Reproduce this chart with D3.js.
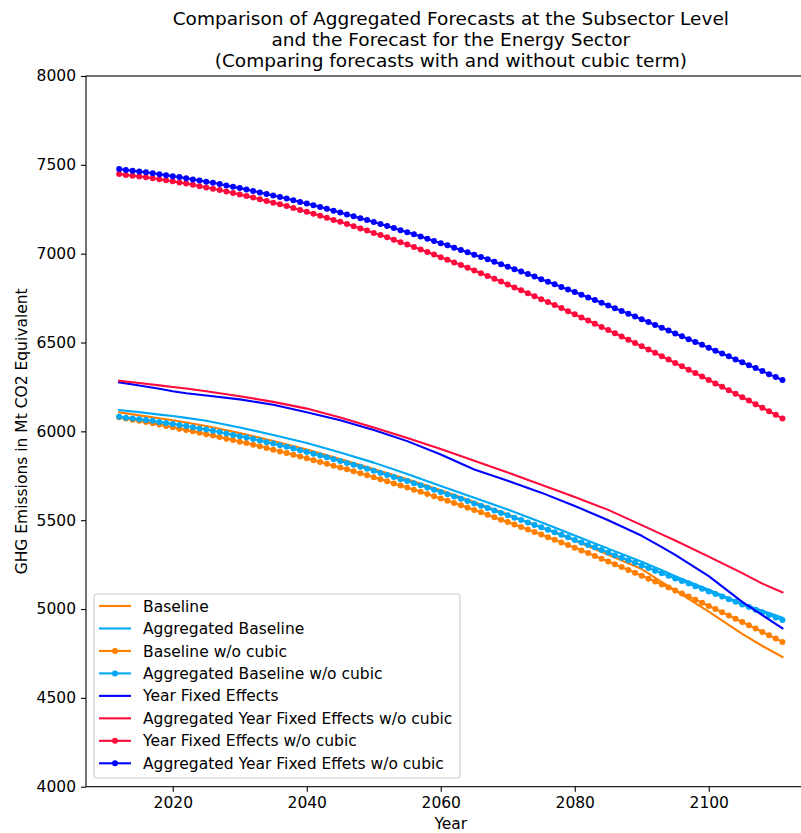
<!DOCTYPE html>
<html>
<head>
<meta charset="utf-8">
<script src="https://cdn.jsdelivr.net/npm/d3@7"></script>
<style>
  body { margin: 0; background: #fff; }
  text { font-family: "DejaVu Sans", sans-serif; }
</style>
</head>
<body>
<svg id="chart" width="801" height="833"></svg>
<script>
// Forecast years (annual series, one marker per year)
const years = d3.range(2012, 2112);

// Years at which the solid-line forecasts are listed
const knotYears = [2012, 2015, 2018, 2020, 2022, 2025, 2030, 2035, 2040, 2045, 2050, 2055,
  2060, 2065, 2070, 2075, 2080, 2085, 2090, 2093, 2095, 2100, 2105, 2108, 2111];

// Solid lines (Mt CO2 eq)
const baseline = [6107, 6090, 6074, 6062, 6050, 6030, 5990, 5946, 5898, 5845, 5788, 5730,
  5668, 5602, 5532, 5460, 5385, 5305, 5225, 5152, 5105, 4985, 4860, 4792, 4730];
const aggBaseline = [6120, 6108, 6094, 6086, 6076, 6060, 6022, 5980, 5934, 5881, 5824, 5760,
  5692, 5626, 5560, 5488, 5414, 5340, 5266, 5218, 5185, 5108, 5030, 4990, 4952];
const yearFE = [6276, 6258, 6240, 6226, 6214, 6202, 6180, 6150, 6108, 6062, 6008, 5945,
  5870, 5785, 5722, 5655, 5580, 5500, 5412, 5348, 5305, 5185, 5040, 4965, 4891];
const aggYearFENoCubic = [6285, 6272, 6259, 6250, 6241, 6226, 6198, 6166, 6128, 6078, 6022, 5962,
  5900, 5835, 5768, 5700, 5630, 5558, 5472, 5420, 5386, 5295, 5202, 5143, 5094];

// Marker series, 2012-2111
const baselineNoCubic = [
  6079, 6072, 6065, 6059, 6052, 6045, 6038, 6030, 6023, 6015,
  6008, 6000, 5992, 5984, 5976, 5968, 5959, 5951, 5942, 5934,
  5925, 5916, 5906, 5897, 5887, 5878, 5868, 5858, 5848, 5838,
  5828, 5817, 5807, 5796, 5786, 5775, 5764, 5753, 5741, 5730,
  5719, 5707, 5695, 5684, 5672, 5660, 5647, 5635, 5622, 5610,
  5597, 5584, 5571, 5557, 5544, 5531, 5517, 5503, 5490, 5476,
  5462, 5448, 5433, 5419, 5404, 5390, 5375, 5360, 5345, 5330,
  5315, 5299, 5283, 5268, 5252, 5236, 5220, 5204, 5187, 5171,
  5155, 5138, 5121, 5104, 5087, 5070, 5052, 5035, 5017, 5000,
  4982, 4964, 4945, 4927, 4908, 4890, 4871, 4852, 4834, 4815];
const aggBaselineNoCubic = [
  6082, 6077, 6073, 6068, 6064, 6059, 6053, 6047, 6042, 6036,
  6030, 6023, 6016, 6010, 6003, 5996, 5988, 5980, 5973, 5965,
  5957, 5948, 5939, 5931, 5922, 5913, 5903, 5893, 5884, 5874,
  5864, 5854, 5843, 5833, 5822, 5812, 5801, 5789, 5778, 5766,
  5755, 5743, 5731, 5720, 5708, 5696, 5684, 5671, 5659, 5646,
  5634, 5621, 5608, 5594, 5581, 5568, 5555, 5541, 5528, 5514,
  5501, 5487, 5473, 5460, 5446, 5432, 5418, 5404, 5389, 5375,
  5361, 5347, 5332, 5318, 5303, 5289, 5274, 5260, 5245, 5231,
  5216, 5201, 5187, 5172, 5158, 5143, 5128, 5114, 5099, 5085,
  5070, 5055, 5041, 5026, 5011, 4996, 4982, 4967, 4953, 4938];
const yearFENoCubic = [
  7448, 7443, 7439, 7434, 7430, 7425, 7419, 7413, 7407, 7401,
  7395, 7388, 7380, 7373, 7365, 7358, 7350, 7341, 7333, 7324,
  7316, 7306, 7297, 7287, 7278, 7268, 7257, 7246, 7236, 7225,
  7214, 7202, 7190, 7179, 7167, 7155, 7142, 7130, 7117, 7105,
  7092, 7078, 7065, 7051, 7038, 7024, 7009, 6995, 6980, 6966,
  6951, 6936, 6921, 6905, 6890, 6875, 6859, 6843, 6826, 6810,
  6794, 6777, 6761, 6744, 6728, 6711, 6694, 6676, 6659, 6641,
  6624, 6606, 6588, 6570, 6552, 6534, 6516, 6497, 6479, 6460,
  6442, 6423, 6404, 6385, 6366, 6347, 6328, 6309, 6289, 6270,
  6251, 6231, 6212, 6192, 6173, 6153, 6133, 6113, 6093, 6073];
const aggYearFENoCubicDots = [
  7476, 7471, 7467, 7462, 7458, 7453, 7447, 7442, 7436, 7431,
  7425, 7418, 7412, 7405, 7399, 7392, 7384, 7376, 7369, 7361,
  7353, 7344, 7336, 7327, 7319, 7310, 7301, 7291, 7282, 7272,
  7263, 7253, 7242, 7232, 7221, 7211, 7200, 7189, 7178, 7167,
  7156, 7144, 7132, 7121, 7109, 7097, 7084, 7072, 7059, 7047,
  7034, 7021, 7008, 6994, 6981, 6968, 6954, 6940, 6927, 6913,
  6899, 6885, 6871, 6856, 6842, 6828, 6813, 6798, 6784, 6769,
  6754, 6739, 6724, 6708, 6693, 6678, 6662, 6646, 6631, 6615,
  6599, 6583, 6567, 6551, 6535, 6519, 6503, 6487, 6470, 6454,
  6438, 6422, 6405, 6389, 6372, 6356, 6339, 6322, 6306, 6289];

const xTicks = [2020, 2040, 2060, 2080, 2100];
const yTicks = [4000, 4500, 5000, 5500, 6000, 6500, 7000, 7500, 8000];

const ORANGE = "#ff7f00", SKY = "#00a8f5", BLUE = "#0000ff", RED = "#ff0a3c";

// Drawing order matches the legend order
const series = [
  { label: "Baseline", xs: knotYears, ys: baseline, color: ORANGE, dots: false },
  { label: "Aggregated Baseline", xs: knotYears, ys: aggBaseline, color: SKY, dots: false },
  { label: "Baseline w/o cubic", xs: years, ys: baselineNoCubic, color: ORANGE, dots: true },
  { label: "Aggregated Baseline w/o cubic", xs: years, ys: aggBaselineNoCubic, color: SKY, dots: true },
  { label: "Year Fixed Effects", xs: knotYears, ys: yearFE, color: BLUE, dots: false },
  { label: "Aggregated Year Fixed Effects w/o cubic", xs: knotYears, ys: aggYearFENoCubic, color: RED, dots: false },
  { label: "Year Fixed Effects w/o cubic", xs: years, ys: yearFENoCubic, color: RED, dots: true },
  { label: "Aggregated Year Fixed Effets w/o cubic", xs: years, ys: aggYearFENoCubicDots, color: BLUE, dots: true }
];

(function draw() {
  const svg = d3.select("#chart");
  svg.append("rect").attr("width", 801).attr("height", 833).attr("fill", "#fff");

  const plotLeft = 86, plotTop = 76, plotBottom = 786.7, plotRight = 815.6;
  const x = d3.scaleLinear().domain([2007.05, 2115.95]).range([plotLeft, plotRight]);
  const y = d3.scaleLinear().domain([4000, 8000]).range([plotBottom, plotTop]);

  // Data layer
  const plot = svg.append("g");
  const line = d3.line().x(d => x(d[0])).y(d => y(d[1]));
  series.forEach(s => {
    const pts = s.xs.map((yr, i) => [yr, s.ys[i]]);
    plot.append("path").datum(pts)
      .attr("d", line)
      .attr("fill", "none")
      .attr("stroke", s.color)
      .attr("stroke-width", 2.1)
      .attr("stroke-linejoin", "round")
      .attr("stroke-linecap", "square");
    if (s.dots) {
      plot.append("g").selectAll("circle").data(pts).join("circle")
        .attr("cx", d => x(d[0])).attr("cy", d => y(d[1]))
        .attr("r", 3).attr("fill", s.color);
    }
  });

  // Axes
  const fontSize = 15.5;
  const xAxis = svg.append("g").attr("transform", `translate(0,${plotBottom})`)
    .call(d3.axisBottom(x).tickValues(xTicks).tickFormat(d3.format("d")).tickSize(5).tickPadding(5));
  const yAxis = svg.append("g").attr("transform", `translate(${plotLeft},0)`)
    .call(d3.axisLeft(y).tickValues(yTicks).tickFormat(d3.format("d")).tickSize(5).tickPadding(5));
  [xAxis, yAxis].forEach(g => {
    g.select(".domain").remove();
    g.selectAll(".tick line").attr("stroke", "#000").attr("stroke-width", 1.1);
    g.selectAll(".tick text").attr("fill", "#000").style("font-size", fontSize + "px")
      .style("font-family", '"DejaVu Sans", sans-serif');
  });

  // Spines
  svg.append("rect").attr("x", plotLeft).attr("y", plotTop)
    .attr("width", plotRight - plotLeft).attr("height", plotBottom - plotTop)
    .attr("fill", "none").attr("stroke", "#000").attr("stroke-width", 1.1);

  // Axis labels
  svg.append("text").attr("x", (plotLeft + plotRight) / 2).attr("y", 829)
    .attr("text-anchor", "middle").style("font-size", fontSize + "px").text("Year");
  svg.append("text").attr("transform", `translate(27,${(plotTop + plotBottom) / 2}) rotate(-90)`)
    .attr("text-anchor", "middle").style("font-size", fontSize + "px")
    .text("GHG Emissions in Mt CO2 Equivalent");

  // Title
  const titleLines = [
    "Comparison of Aggregated Forecasts at the Subsector Level",
    "and the Forecast for the Energy Sector",
    "(Comparing forecasts with and without cubic term)"
  ];
  svg.append("g").selectAll("text").data(titleLines).join("text")
    .attr("x", (plotLeft + plotRight) / 2)
    .attr("y", (d, i) => 25 + i * 21)
    .attr("text-anchor", "middle")
    .style("font-size", "18.5px")
    .text(d => d);

  // Legend
  const lg = svg.append("g").attr("transform", "translate(94,594)");
  lg.append("rect").attr("width", 366).attr("height", 184).attr("rx", 3)
    .attr("fill", "#fff").attr("fill-opacity", 0.8)
    .attr("stroke", "#cccccc").attr("stroke-width", 1.1);
  series.forEach((s, i) => {
    const cy = 12 + i * 22.47;
    lg.append("line").attr("x1", 5).attr("x2", 37).attr("y1", cy).attr("y2", cy)
      .attr("stroke", s.color).attr("stroke-width", 2.1);
    if (s.dots) lg.append("circle").attr("cx", 21).attr("cy", cy).attr("r", 3).attr("fill", s.color);
    lg.append("text").attr("x", 49).attr("y", cy).attr("dy", "0.36em")
      .style("font-size", fontSize + "px").attr("fill", "#000").text(s.label);
  });
})();
</script>
</body>
</html>
